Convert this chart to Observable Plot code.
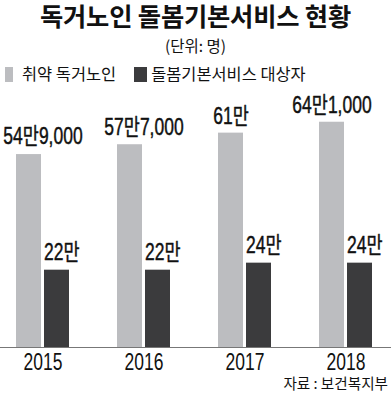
<!DOCTYPE html>
<html>
<head>
<meta charset="utf-8">
<script src="https://cdn.jsdelivr.net/npm/d3@7"></script>
<script src="https://cdn.jsdelivr.net/npm/@observablehq/plot@0.6"></script>
<style>
  html, body { margin: 0; padding: 0; background: #fff; }
  body { width: 391px; height: 393px; overflow: hidden; font-family: "Noto Sans CJK KR", sans-serif; color: #111; }
  .title { height: 36px; line-height: 30px; font-size: 25.3px; font-weight: bold; text-align: center; letter-spacing: -0.2px; }
  .subtitle { height: 20px; line-height: 20px; font-size: 15.5px; text-align: center; margin-top: -1px; }
  .legend { height: 36px; line-height: 36px; font-size: 16.4px; padding-left: 5px; white-space: nowrap; display: flex; align-items: center; }
  .sw { display: inline-block; height: 15px; margin-top: 3px; }
  .caption { height: 17px; line-height: 16px; font-size: 14.6px; text-align: right; padding-right: 3px; }
  svg text { font-family: "Liberation Sans", "Noto Sans CJK KR", sans-serif; }
</style>
</head>
<body>
<div class="title">독거노인 돌봄기본서비스 현황</div>
<div class="subtitle">(단위: 명)</div>
<div class="legend" id="legend"></div>
<div id="chart"></div>
<div class="caption">자료 : 보건복지부</div>
<script>
const years = ["2015", "2016", "2017", "2018"];
const seriesNames = ["취약 독거노인", "돌봄기본서비스 대상자"];
const vulnerable = [549000, 577000, 610000, 641000];
const careTargets = [220000, 220000, 240000, 240000];
const vulnerableLabels = ["54만9,000", "57만7,000", "61만", "64만1,000"];
const careLabels = ["22만", "22만", "24만", "24만"];
const colors = ["#bcbdc0", "#3b3b3d"];

const rows = [];
years.forEach((y, i) => {
  rows.push({year: y, series: seriesNames[0], value: vulnerable[i], label: vulnerableLabels[i], idx: i});
  rows.push({year: y, series: seriesNames[1], value: careTargets[i], label: careLabels[i], idx: i});
});
const lightRows = rows.filter(d => d.series === seriesNames[0]);
const darkRows = rows.filter(d => d.series === seriesNames[1]);

// legend
const legend = document.getElementById("legend");
seriesNames.forEach((s, i) => {
  const sw = document.createElement("span");
  sw.className = "sw";
  sw.style.background = colors[i];
  sw.style.width = i === 0 ? "8px" : "13px";
  sw.style.marginLeft = i === 0 ? "0px" : "18px";
  sw.style.marginRight = i === 0 ? "9px" : "4px";
  legend.appendChild(sw);
  const t = document.createElement("span");
  t.textContent = s;
  legend.appendChild(t);
});

const textFont = {fontSize: 23, fill: "#111", stroke: "#111", strokeWidth: 0.45};

const chart = Plot.plot({
  width: 391,
  height: 284,
  marginTop: 10,
  marginBottom: 28,
  marginLeft: 14,
  marginRight: 18,
  fx: {domain: years, paddingInner: 0.457, paddingOuter: 0, axis: null},
  x: {domain: seriesNames, paddingInner: 0.103, paddingOuter: 0, axis: null},
  y: {domain: [0, 700000], axis: null},
  color: {domain: seriesNames, range: colors},
  marks: [
    Plot.barY(rows, {fx: "year", x: "series", y: "value", fill: "series"}),
    Plot.text(lightRows.filter(d => d.idx < 2), {fx: "year", x: "series", y: "value", text: "label", dy: -17.5, dx: 14, lineAnchor: "middle", ...textFont}),
    Plot.text(lightRows.filter(d => d.idx >= 2), {fx: "year", x: "series", y: "value", text: "label", dy: -17, lineAnchor: "middle", ...textFont}),
    Plot.text(darkRows, {fx: "year", x: "series", y: "value", text: "label", dy: -17.5, dx: -13, textAnchor: "start", lineAnchor: "middle", ...textFont}),
    Plot.text(years, {fx: d => d, text: d => d, frameAnchor: "bottom", dy: 15.5, lineAnchor: "middle", fontSize: 23, fill: "#111"})
  ]
});
document.getElementById("chart").appendChild(chart);

// condensed look: compress glyphs horizontally
chart.querySelectorAll("text").forEach(t => {
  const w = t.getComputedTextLength();
  if (w > 0) {
    t.setAttribute("textLength", (w * 0.76).toFixed(1));
    t.setAttribute("lengthAdjust", "spacingAndGlyphs");
  }
});

// baseline across full width
const yScale = chart.scale("y");
const yb = yScale.apply(0);
const line = document.createElementNS("http://www.w3.org/2000/svg", "line");
line.setAttribute("x1", 0);
line.setAttribute("x2", 391);
line.setAttribute("y1", yb + 0.5);
line.setAttribute("y2", yb + 0.5);
line.setAttribute("stroke", "#777");
line.setAttribute("stroke-width", 1);
chart.appendChild(line);
</script>
</body>
</html>
